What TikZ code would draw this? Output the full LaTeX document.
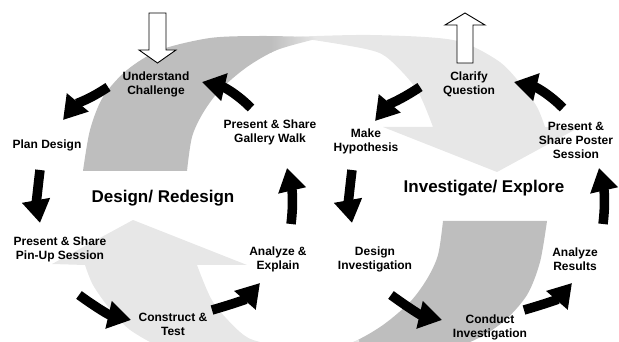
\documentclass[tikz,border=0pt]{standalone}
\usepackage{fontspec}
\setmainfont{Liberation Sans}
\usetikzlibrary{arrows.meta}
\definecolor{backband}{RGB}{190,190,190}
\definecolor{frontband}{RGB}{231,231,231}
\begin{document}
\begin{tikzpicture}[x=1pt,y=1pt,
	stagetext/.style={font=\bfseries\fontsize{12}{14}\selectfont, align=center, inner sep=0pt},
	cycletitle/.style={font=\bfseries\fontsize{17}{20}\selectfont, inner sep=0pt},
	flowarrow/.style={line width=9.5pt, -{Triangle[width=27pt,length=23pt]}},
	hollowarrow/.style={draw=black, fill=white, line width=0.9pt}]
	\clip (0,0) rectangle (619,342);
	% Curved bands (the lower one is the upper one turned round)
	\foreach \turn in {0,180} {
		\begin{scope}[rotate around={\turn:(315,146)}]
			\fill [frontband] plot [smooth] coordinates {(290,305) (370,307) (453,302) (497,282) (520,259) (537,235) (545,215)} -- (578,214) -- (497,170) -- (383,215) -- (433,215) -- plot [smooth] coordinates {(433,215) (417,252) (390,282) (370,292) (313,302) (290,303)} -- cycle;
			\begin{scope}
				\clip plot [smooth] coordinates {(83,171) (90,212) (103,245) (127,272) (160,292) (210,304) (260,306) (312,305)} -- plot [smooth] coordinates {(316,303) (277,292) (247,275) (220,252) (203,229) (192,205) (187,171)} -- cycle;
				\fill [backband] (60,160) rectangle (272,320);
				\shade [left color=backband, right color=frontband] (271,160) rectangle (318,320);
			\end{scope}
		\end{scope}
	}
	% Entry and exit arrows
	\draw [hollowarrow] (149,329) -- (166,329) -- (166,292) -- (176,292) -- (157.5,279) -- (139,292) -- (149,292) -- cycle;
	\draw [hollowarrow] (457,279) -- (473,279) -- (473,317) -- (485,317) -- (465,329) -- (445,317) -- (457,317) -- cycle;
	% Design cycle
	\node [stagetext] (understand) at (156,258) {Understand\\Challenge};
	\node [stagetext] (plan) at (47,197) {Plan Design};
	\node [stagetext] (pinup) at (60,93) {Present \& Share\\Pin-Up Session};
	\node [stagetext] (construct) at (173,18) {Construct \&\\Test};
	\node [stagetext] (explain) at (278,83) {Analyze \&\\Explain};
	\node [stagetext] (gallery) at (270,210) {Present \& Share\\Gallery Walk};
	\node [cycletitle] (redesign) at (163,144) {Design/ Redesign};
	\draw [flowarrow] ([shift={(-48,-3)}]understand.center) to [out=214,in=50] ([shift={(16,25)}]plan.center);
	\draw [flowarrow] ([shift={(-7,-25)}]plan.center) to [out=263,in=100] ([shift={(-20,26)}]pinup.center);
	\draw [flowarrow] ([shift={(19,-46)}]pinup.center) to [out=324,in=167] ([shift={(-42,4)}]construct.center);
	\draw [flowarrow] ([shift={(39,14)}]construct.center) to [out=16,in=229] ([shift={(-18,-24)}]explain.center);
	\draw [flowarrow] ([shift={(13,35)}]explain.center) to [out=83,in=283] ([shift={(17,-36)}]gallery.center);
	\draw [flowarrow] ([shift={(-19,24)}]gallery.center) to [out=135,in=347] ([shift={(46,2)}]understand.center);
	% Investigation cycle
	\node [stagetext] (clarify) at (469,258) {Clarify\\Question};
	\node [stagetext] (hypothesis) at (366,201) {Make\\Hypothesis};
	\node [stagetext] (investigation) at (375,83) {Design\\Investigation};
	\node [stagetext] (conduct) at (490,15) {Conduct\\Investigation};
	\node [stagetext] (results) at (575,83) {Analyze\\Results};
	\node [stagetext] (poster) at (576,202) {Present \&\\Share Poster\\Session};
	\node [cycletitle] (explore) at (484,154) {Investigate/ Explore};
	\draw [flowarrow] ([shift={(-49,-3)}]clarify.center) to [out=214,in=50] ([shift={(9,20)}]hypothesis.center);
	\draw [flowarrow] ([shift={(-14,-29)}]hypothesis.center) to [out=263,in=100] ([shift={(-23,36)}]investigation.center);
	\draw [flowarrow] ([shift={(16,-36)}]investigation.center) to [out=324,in=167] ([shift={(-48,7)}]conduct.center);
	\draw [flowarrow] ([shift={(34,17)}]conduct.center) to [out=16,in=229] ([shift={(-3,-24)}]results.center);
	\draw [flowarrow] ([shift={(28,35)}]results.center) to [out=83,in=283] ([shift={(23,-28)}]poster.center);
	\draw [flowarrow] ([shift={(-13,32)}]poster.center) to [out=135,in=347] ([shift={(45,2)}]clarify.center);
\end{tikzpicture}
\end{document}
